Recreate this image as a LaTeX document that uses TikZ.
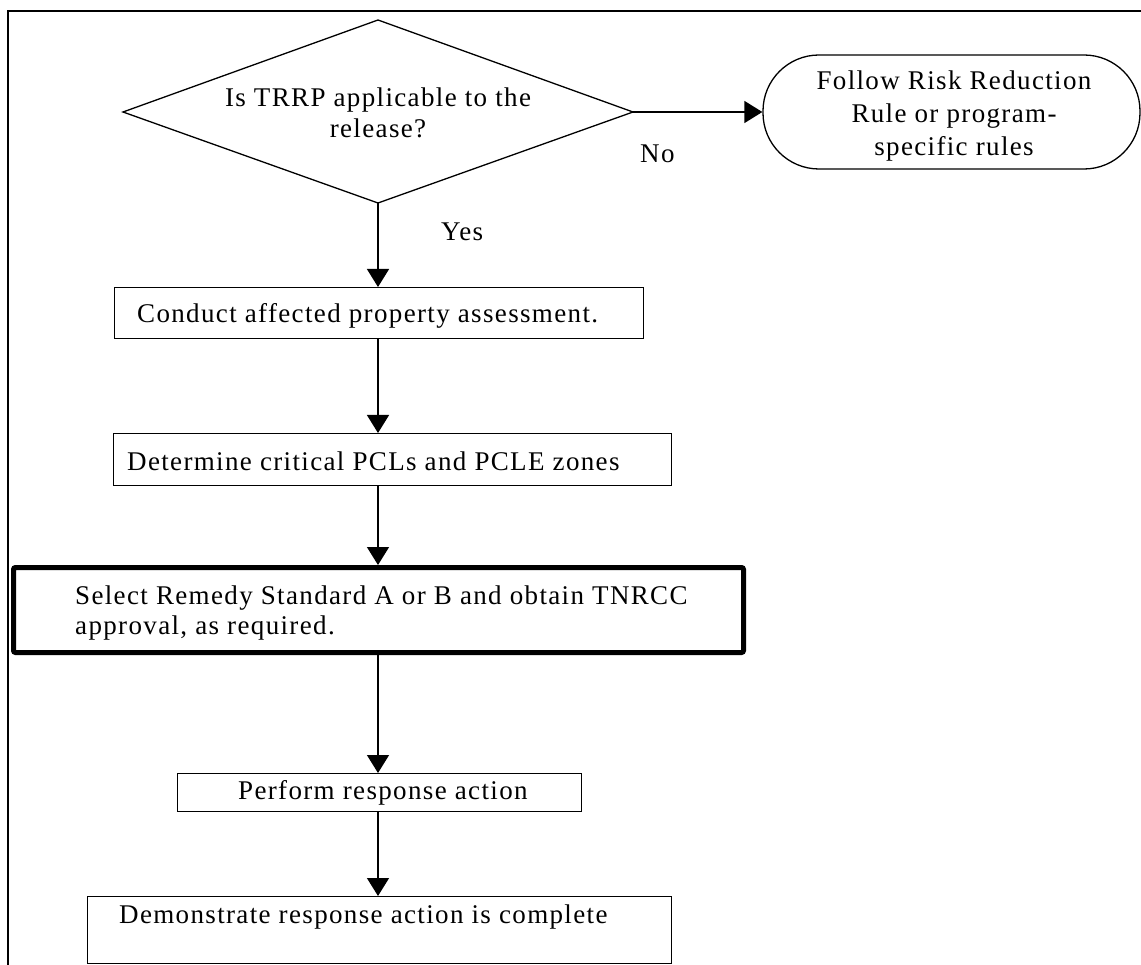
\documentclass[tikz,border=0pt]{standalone}
\usepackage{fontspec}
\setmainfont{Liberation Serif}[LetterSpace=5]
\usetikzlibrary{arrows.meta}
\begin{document}
\begin{tikzpicture}[x=1pt,y=1pt,
  every node/.style={font=\fontsize{27}{31}\selectfont, inner sep=0pt},
  box/.style={draw, line width=1.4pt, anchor=north west, inner sep=0pt},
  arr/.style={line width=1.4pt, -{Triangle[length=18pt,width=22pt]}},
  lbl/.style={anchor=base west}]
\useasboundingbox (0,0) rectangle (1141,-965);
\fill[white] (0,0) rectangle (1141,-965);
% outer frame
\draw[line width=2.5pt] (8,-965) -- (8,-11) -- (1141,-11);
% decision diamond
\coordinate (qt) at (378,-20);
\coordinate (qr) at (633,-112);
\coordinate (qb) at (378,-203);
\coordinate (ql) at (123,-112);
\draw[line width=1.3pt, line join=miter] (qt) -- (qr) -- (qb) -- (ql) -- cycle;
\node[anchor=north, align=center] (qtext) at (378,-87.6) {Is TRRP applicable to the\\release?};
% terminal
\node[draw, line width=1.3pt, rounded corners=56pt, minimum width=377pt, minimum height=114pt] (term) at (951.5,-112) {};
\node[anchor=north, align=center, font=\fontsize{27}{33}\selectfont] (termtext) at (954,-70.6) {Follow Risk Reduction\\Rule or program-\\specific rules};
% boxes
\node[box, minimum width=529pt, minimum height=51pt] (conduct) at (114,-287) {};
\node[lbl] (conductT) at (137,-323) {Conduct affected property assessment.};
\node[box, minimum width=558pt, minimum height=52pt] (determine) at (113,-433) {};
\node[lbl] (determineT) at (127,-471) {Determine critical PCLs and PCLE zones};
\node[draw, line width=5pt, rounded corners=2pt, minimum width=730pt, minimum height=85pt] (select) at (378.5,-610) {};
\node[anchor=north west, align=left, font=\fontsize{27}{29.5}\selectfont] (selectT) at (75,-585.6) {Select Remedy Standard A or B and obtain TNRCC\\approval, as required.};
\node[box, minimum width=404pt, minimum height=38pt] (perform) at (177,-773) {};
\node[lbl] (performT) at (238,-799) {Perform response action};
\node[box, minimum width=584pt, minimum height=67pt] (demo) at (87,-896) {};
\node[lbl] (demoT) at (119,-923) {Demonstrate response action is complete};
% labels
\node[lbl] (no) at (640,-163) {No};
\node[lbl] (yes) at (441,-241) {Yes};
% connectors
\draw[arr] (qr) -- (term.west);
\draw[arr] (qb) -- (conduct.north -| qb);
\draw[arr] (conduct.south -| qb) -- (determine.north -| qb);
\draw[arr] (determine.south -| qb) -- (select.north -| qb);
\draw[arr] (select.south -| qb) -- (perform.north -| qb);
\draw[arr] (perform.south -| qb) -- (demo.north -| qb);
\end{tikzpicture}
\end{document}
